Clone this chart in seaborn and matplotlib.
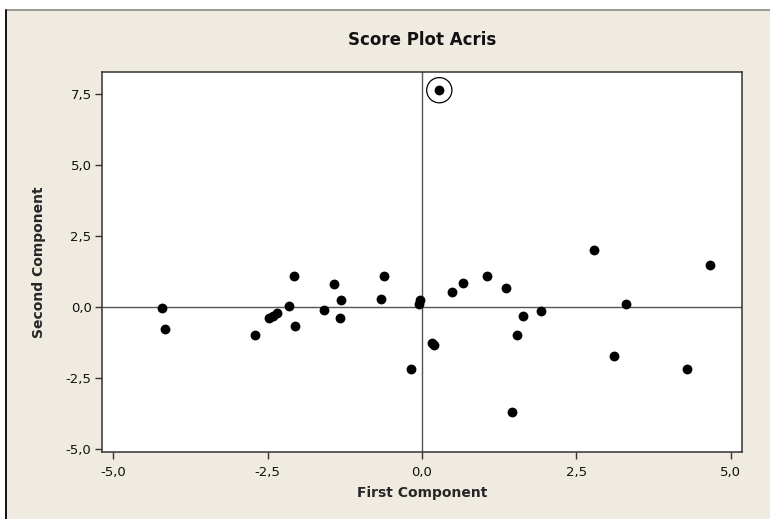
import matplotlib
matplotlib.use("Agg")
import matplotlib.pyplot as plt
from matplotlib.patches import Rectangle
from matplotlib.ticker import FuncFormatter
import numpy as np
import pandas as pd
import seaborn as sns

# score values
first_comp = [-4.21, -4.16, -2.71, -2.47, -2.42, -2.35, -2.16, -2.07, -2.05,
              -1.59, -1.42, -1.31, -1.33, -0.66, -0.62, -0.05, -0.03, -0.17,
              0.16, 0.20, 0.49, 0.66, 1.06, 1.36, 1.64, 1.53, 1.93, 1.45,
              2.79, 3.30, 3.10, 4.29, 4.67, 0.28]
second_comp = [-0.04, -0.77, -1.00, -0.39, -0.32, -0.23, 0.04, 1.08, -0.68,
               -0.10, 0.80, 0.24, -0.38, 0.28, 1.08, 0.09, 0.24, -2.18,
               -1.27, -1.34, 0.52, 0.85, 1.08, 0.66, -0.33, -1.00, -0.15, -3.70,
               1.99, 0.09, -1.71, -2.18, 1.47, 7.62]
outlier_idx = [33]

x_ticks = [-5.0, -2.5, 0.0, 2.5, 5.0]
y_ticks = [-5.0, -2.5, 0.0, 2.5, 5.0, 7.5]

df = pd.DataFrame({"First Component": first_comp, "Second Component": second_comp})
marked = df.iloc[outlier_idx]

sns.set_theme(style="white")
plt.rcParams['font.family'] = ['DejaVu Sans']

beige = "#efebe1"
fig = plt.figure(figsize=(7.7, 5.19), dpi=100, facecolor="white")
# beige panel, only its top and left edges fall inside the picture
fig.patches.append(Rectangle((6 / 770, -0.1), 1.2, 1.1 - 10 / 519, transform=fig.transFigure,
                             facecolor=beige, edgecolor="none", zorder=-2))
fig.add_artist(plt.Line2D([6 / 770, 1], [1 - 10 / 519] * 2, transform=fig.transFigure,
                          color="#8a8a80", linewidth=1.2))
fig.add_artist(plt.Line2D([6 / 770] * 2, [0, 1 - 10 / 519], transform=fig.transFigure,
                          color="#111111", linewidth=1.4))

ax = fig.add_axes([102 / 770, 1 - 452 / 519, 640 / 770, 380 / 519])
ax.set_facecolor("white")

ax.axhline(0, color="#555555", linewidth=1.0, zorder=1)
ax.axvline(0, color="#555555", linewidth=1.0, zorder=1)

sns.scatterplot(data=df, x="First Component", y="Second Component", ax=ax,
                color="black", s=50, edgecolor="black", linewidth=0, zorder=3)
sns.scatterplot(data=marked, x="First Component", y="Second Component", ax=ax,
                s=330, facecolor="none", edgecolor="black", linewidth=0.9, zorder=3)

ax.set_xlim(-5.18, 5.18)
ax.set_ylim(-5.1, 8.26)
ax.set_xticks(x_ticks)
ax.set_yticks(y_ticks)
fmt = FuncFormatter(lambda v, p: f"{v:.1f}".replace(".", ","))
ax.xaxis.set_major_formatter(fmt)
ax.yaxis.set_major_formatter(fmt)
ax.tick_params(axis="both", which="major", direction="out", length=5, width=1,
               color="#333333", labelsize=9.5, labelcolor="#111111",
               bottom=True, left=True)
ax.tick_params(axis="x", pad=5)
ax.tick_params(axis="y", pad=2.5)
for sp in ax.spines.values():
    sp.set_color("#333333")
    sp.set_linewidth(1.1)

ax.set_xlabel("First Component", fontsize=10, fontweight="bold", labelpad=5)
ax.set_ylabel("Second Component", fontsize=10, fontweight="bold", labelpad=14)
fig.text(422 / 770, 1 - 40 / 519, "Score Plot Acris", ha="center", va="center",
         fontsize=12, fontweight="bold", color="#111111")

fig.savefig("out.png", dpi=100, facecolor=fig.get_facecolor())
